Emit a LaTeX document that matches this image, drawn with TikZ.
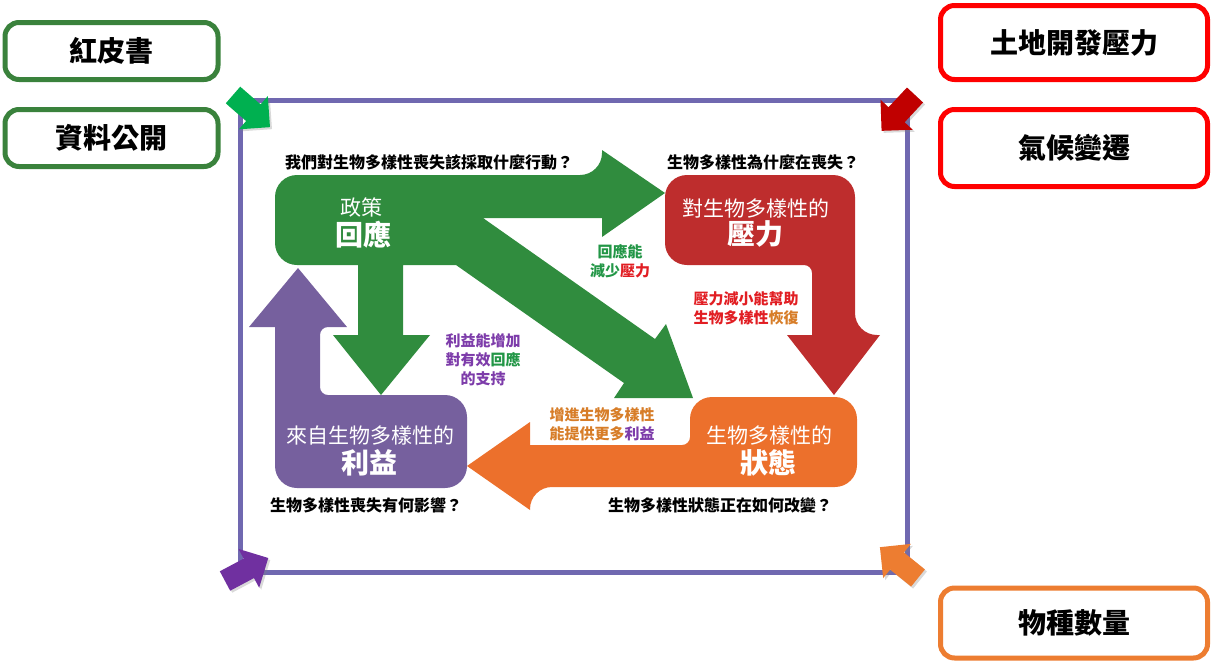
\documentclass[tikz,border=0pt]{standalone}
\usepackage{fontspec}
\newfontfamily\cjk{Noto Sans CJK TC}
\usepackage{xcolor}
\usetikzlibrary{positioning,shadows}

\definecolor{polgreen}{RGB}{48,140,62}
\definecolor{presred}{RGB}{190,45,45}
\definecolor{stateorange}{RGB}{236,112,44}
\definecolor{benpurple}{RGB}{118,96,158}
\definecolor{framepurple}{RGB}{112,104,176}
\definecolor{boxgreen}{RGB}{58,130,60}
\definecolor{boxred}{RGB}{255,0,0}
\definecolor{boxorange}{RGB}{237,125,49}
\definecolor{arrgreen}{RGB}{0,176,80}
\definecolor{arrred}{RGB}{192,0,0}
\definecolor{arrpurple}{RGB}{112,48,160}
\definecolor{txtgreen}{RGB}{34,150,70}
\definecolor{txtred}{RGB}{225,30,35}
\definecolor{txtpurple}{RGB}{125,60,170}
\definecolor{txtorange}{RGB}{215,125,40}

\begin{document}
\begin{tikzpicture}[x=1pt, y=-1pt,
  sidebox/.style={draw, fill=white, rounded corners=14pt, line width=5pt, minimum width=213pt, minimum height=57pt, font=\cjk\bfseries\fontsize{28}{32}\selectfont},
  quest/.style={font=\cjk\bfseries\fontsize{16}{19}\selectfont},
  note/.style={font=\cjk\bfseries\fontsize{15}{19}\selectfont, align=center},
  title/.style={text=white, font=\cjk\fontsize{21}{24}\selectfont},
  bigtitle/.style={text=white, font=\cjk\bfseries\fontsize{28}{30}\selectfont},
  cornerarr/.pic={\path[pic actions, drop shadow={opacity=0.3, shadow xshift=2pt, shadow yshift=-2pt}] (0,-11) -- (27,-11) -- (27,-22) -- (49,0) -- (27,22) -- (27,11) -- (0,11) -- cycle;}]
\useasboundingbox (0,0) rectangle (1213,662);

\draw[framepurple, line width=5pt] (240,100) rectangle (907,572);

\fill[polgreen] (275,220) [rounded corners=22pt] -- (275,175) -- (602,175) [sharp corners] -- (602,150) -- (665,193) -- (602,237) -- (602,218) -- (483,218) -- (655,339) -- (666,324) -- (693,398) -- (614,398) -- (624,383) -- (456,265) -- (403,265) -- (403,335) -- (430,335) -- (381,395) -- (333,335) -- (358,335) -- (358,265) [rounded corners=22pt] -- (275,265) -- cycle;
\fill[presred] (665,220) [rounded corners=22pt] -- (665,175) -- (855,175) -- (855,335) [sharp corners] -- (880,335) -- (834,395) -- (787,335) -- (812,335) [rounded corners=8pt] -- (812,265) [rounded corners=22pt] -- (665,265) -- cycle;
\fill[stateorange] (773,397) [rounded corners=22pt] -- (857,397) -- (857,487) -- (530,487) [sharp corners] -- (530,510) -- (467,466) -- (530,422) -- (530,445) [rounded corners=8pt] -- (690,445) [rounded corners=22pt] -- (690,397) -- cycle;
\fill[benpurple] (371,488) [rounded corners=22pt] -- (467,488) -- (467,395) [rounded corners=8pt] -- (320,395) -- (320,327) [sharp corners] -- (347,327) -- (298,268) -- (249,327) -- (275,327) [rounded corners=22pt] -- (275,488) -- cycle;

\node[quest] (qact) at (429,162) {我們對生物多樣性喪失該採取什麼行動？};
\node[quest] (qwhy) at (763,162) {生物多樣性為什麼在喪失？};
\node[quest] (qimp) at (366,505) {生物多樣性喪失有何影響？};
\node[quest] (qchg) at (720,505) {生物多樣性狀態正在如何改變？};

\node[title] (policy) at (361,207) {政策};
\node[bigtitle] (resp) at (363,235) {回應};
\node[title] (prestop) at (756,208) {對生物多樣性的};
\node[bigtitle] (pres) at (755,234) {壓力};
\node[title] (bentop) at (370,435) {來自生物多樣性的};
\node[bigtitle] (ben) at (369,463) {利益};
\node[title] (statetop) at (769,435) {生物多樣性的};
\node[bigtitle] (state) at (768,463) {狀態};

\node[note, text=txtgreen] (reduce) at (620,261) {回應能\\減少\textcolor{txtred}{壓力}};
\node[note, text=txtred] (recover) at (746,308) {壓力減小能幫助\\生物多樣性\textcolor{txtorange}{恢復}};
\node[note, text=txtpurple] (support) at (483,360) {利益能增加\\對有效\textcolor{txtgreen}{回應}\\的支持};
\node[note, text=txtorange] (provide) at (602,424) {增進生物多樣性\\能提供更多\textcolor{txtpurple}{利益}};

\pic[fill=arrgreen, rotate=-41] at (233,95) {cornerarr};
\pic[fill=arrred, rotate=-133] at (915,95) {cornerarr};
\pic[fill=arrpurple, rotate=28] at (225,581) {cornerarr};
\pic[fill=boxorange, rotate=141] at (918,578) {cornerarr};

\node[sidebox, draw=boxgreen] (redbook) at (111.5,51) {紅皮書};
\node[sidebox, draw=boxgreen, below=25pt of redbook] (opendata) {資料公開};
\node[sidebox, draw=boxred, minimum width=267pt, minimum height=74pt] (landuse) at (1074,42.5) {土地開發壓力};
\node[sidebox, draw=boxred, minimum width=267pt, minimum height=77pt, below=25pt of landuse] (climate) {氣候變遷};
\node[sidebox, draw=boxorange, minimum width=267pt, minimum height=70pt] (species) at (1074,623) {物種數量};
\end{tikzpicture}
\end{document}
